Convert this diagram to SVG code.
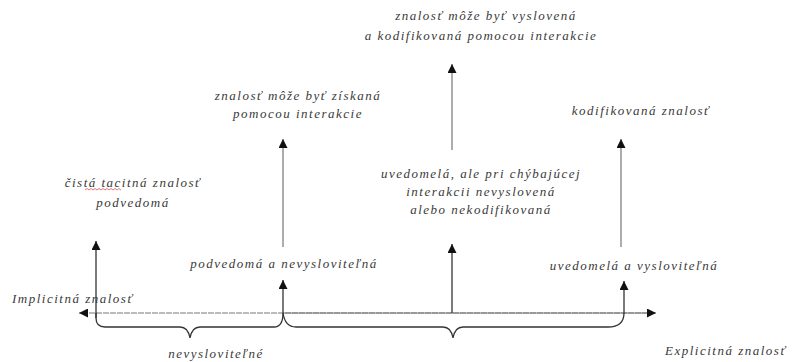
<svg xmlns="http://www.w3.org/2000/svg" width="795" height="362" viewBox="0 0 795 362">
<defs>
<style>
.t{font-family:"Liberation Serif","Times New Roman",serif;font-style:italic;font-size:13px;letter-spacing:1.5px;fill:#3a3a3a;text-anchor:middle}
.ax{stroke:#777;stroke-width:1;fill:none}
.dk{stroke:#333;stroke-width:1.3;fill:none}
.gr{stroke:#999;stroke-width:1.6;fill:none}
</style>
<marker id="ah" viewBox="0 0 10 10" refX="10" refY="5" markerWidth="9" markerHeight="9" markerUnits="userSpaceOnUse" orient="auto">
<path d="M0,0 L10,5 L0,10 Z" fill="#111"/>
</marker>
</defs>
<rect width="795" height="362" fill="#fff"/>
<g id="connectors">
<line class="ax" x1="655" y1="313" x2="79" y2="313" marker-end="url(#ah)" stroke-dasharray="6,1"/>
<line class="ax" x1="283" y1="313" x2="656" y2="313" marker-end="url(#ah)"/>
<path class="dk" d="M96,313 L96,318 Q96,327 105,327 L180,327 Q188,327 190,338 Q192,327 200,327 L274,327 Q283,327 283,313" />
<path class="dk" d="M283,313 Q285,327 296,327 L443,327 Q451,327 453,338 Q455,327 463,327 L608,327 Q624,327 624,313" />
<line class="dk" x1="96" y1="318" x2="96" y2="241" marker-end="url(#ah)"/>
<line class="dk" x1="283" y1="313" x2="283" y2="280" marker-end="url(#ah)"/>
<line class="dk" x1="452" y1="313" x2="452" y2="244" marker-end="url(#ah)"/>
<line class="dk" x1="624" y1="313" x2="624" y2="281" marker-end="url(#ah)"/>
<line class="gr" x1="283" y1="247" x2="283" y2="139" marker-end="url(#ah)"/>
<line class="gr" x1="452" y1="150" x2="452" y2="64" marker-end="url(#ah)"/>
<line class="gr" x1="621" y1="247" x2="621" y2="139" marker-end="url(#ah)"/>
</g>
<g id="n-top">
<text class="t" x="486" y="20">znalosť môže byť vyslovená</text>
<text class="t" x="481" y="40">a kodifikovaná pomocou interakcie</text>
</g>
<g id="n-ziskana">
<text class="t" x="298" y="100">znalosť môže byť získaná</text>
<text class="t" x="298" y="118">pomocou interakcie</text>
</g>
<g id="n-kodif">
<text class="t" x="641" y="115">kodifikovaná znalosť</text>
</g>
<g id="n-tacit">
<text class="t" x="133" y="187">čistá tacitná znalosť</text>
<text class="t" x="133" y="207">podvedomá</text>
<path d="M85,190 l2,-1.5 l2,1.5 l2,-1.5 l2,1.5 l2,-1.5 l2,1.5 l2,-1.5 l2,1.5 l2,-1.5 l2,1.5 l2,-1.5 l2,1.5 l2,-1.5 l2,1.5 l2,-1.5 l2,1.5 l2,-1.5 l2,1.5" fill="none" stroke="#d55" stroke-width="0.8"/>
</g>
<g id="n-uvedomela-ale">
<text class="t" x="481" y="178">uvedomelá, ale pri chýbajúcej</text>
<text class="t" x="481" y="196">interakcii nevyslovená</text>
<text class="t" x="481" y="214">alebo nekodifikovaná</text>
</g>
<g id="n-podvedoma">
<text class="t" x="284" y="268">podvedomá a nevysloviteľná</text>
</g>
<g id="n-uvedomela">
<text class="t" x="634" y="270">uvedomelá a vysloviteľná</text>
</g>
<g id="n-implicit">
<text class="t" x="12" y="303" style="text-anchor:start">Implicitná znalosť</text>
</g>
<g id="n-nevysl">
<text class="t" x="216" y="358">nevysloviteľné</text>
</g>
<g id="n-explicit">
<text class="t" x="665" y="355" style="text-anchor:start">Explicitná znalosť</text>
</g>
</svg>
